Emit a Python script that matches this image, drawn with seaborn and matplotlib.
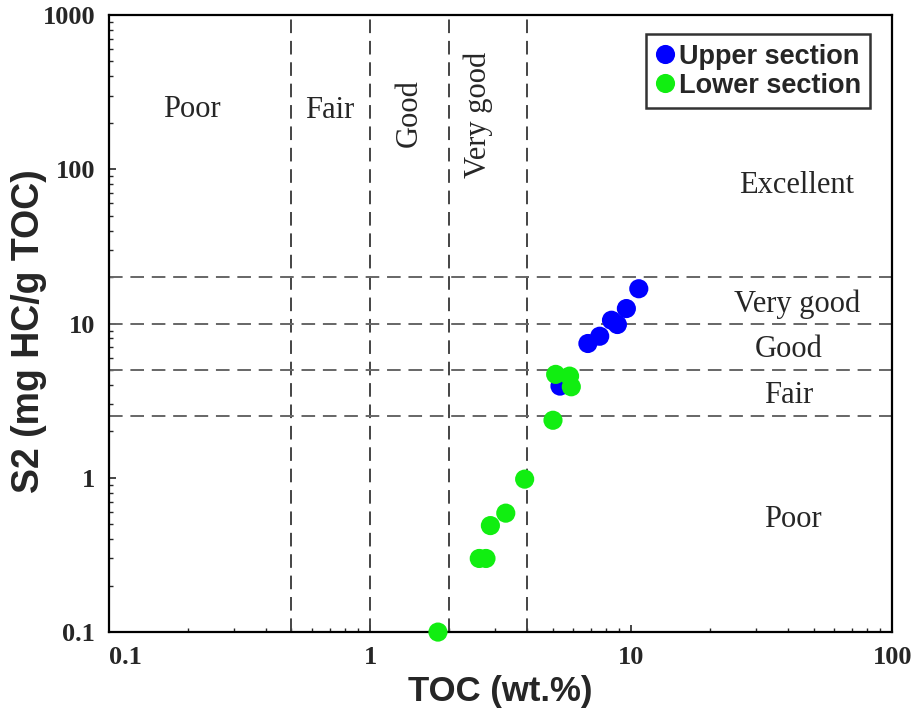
import numpy as np
import pandas as pd
import matplotlib
matplotlib.use("Agg")
import matplotlib.pyplot as plt
import matplotlib.transforms as mtransforms
import seaborn as sns
from matplotlib.ticker import LogLocator, FixedLocator, NullFormatter

# ---- data ----
upper_toc = [5.34, 6.83, 7.58, 8.41, 8.86, 9.59, 10.7]
upper_s2 = [3.93, 7.42, 8.27, 10.5, 9.85, 12.5, 16.8]
lower_toc = [5.14, 5.81, 5.90, 5.02, 3.91, 3.31, 2.89, 2.62, 2.78, 1.82]
lower_s2 = [4.68, 4.56, 3.89, 2.36, 0.98, 0.59, 0.49, 0.30, 0.30, 0.10]
series_names = ["Upper section", "Lower section"]
series_colors = ["#0000ff", "#11ee11"]

toc_cuts = [0.5, 1, 2, 4]
s2_cuts = [2.5, 5, 10, 20]
x_ticks = [0.1, 1, 10, 100]
x_tick_labels = ["0.1", "1", "10", "100"]
y_ticks = [0.1, 1, 10, 100, 1000]
y_tick_labels = ["0.1", "1", "10", "100", "1000"]

toc_zone_labels = ["Poor", "Fair", "Good", "Very good"]
toc_zone_x = [0.207, 0.698, 1.415, 2.60]
toc_zone_y = [245, 240, 232, 225]
toc_zone_rot = [0, 0, 90, 90]
s2_zone_labels = ["Excellent", "Very good", "Good", "Fair", "Poor"]
s2_zone_x = [43.2, 43.2, 40.2, 40.2, 41.5]
s2_zone_y = [79.0, 13.4, 6.75, 3.40, 0.535]

df = pd.DataFrame({
    "TOC": upper_toc + lower_toc,
    "S2": upper_s2 + lower_s2,
    "Section": [series_names[0]] * len(upper_toc) + [series_names[1]] * len(lower_toc),
})

sns.set_style("white")
fig = plt.figure(figsize=(9.16, 7.11), dpi=100)
ax = fig.add_axes([0.119, 0.111, 0.855, 0.868])

for c in toc_cuts:
    ax.axvline(c, color="#444444", lw=1.4, ls=(0, (7, 4)), zorder=1)
for c in s2_cuts:
    ax.axhline(c, color="#666666", lw=1.4, ls=(0, (7, 4)), zorder=1)

sns.scatterplot(data=df, x="TOC", y="S2", hue="Section", hue_order=series_names,
                palette=series_colors, s=190, linewidth=0, ax=ax, zorder=3,
                clip_on=False)

ax.set_xscale("log")
ax.set_yscale("log")
ax.set_xlim(0.1, 100)
ax.set_ylim(0.1, 1000)

serif_bold = {"family": "Liberation Serif", "weight": "bold", "size": 19}
ax.xaxis.set_major_locator(FixedLocator(x_ticks))
ax.yaxis.set_major_locator(FixedLocator(y_ticks))
ax.set_xticklabels(x_tick_labels, fontdict=serif_bold)
ax.set_yticklabels(y_tick_labels, fontdict=serif_bold)
ax.get_xticklabels()[0].set_horizontalalignment("left")
down = mtransforms.ScaledTranslation(0, -3 / 100, fig.dpi_scale_trans)
for lab in ax.get_yticklabels():
    lab.set_transform(lab.get_transform() + down)
ax.xaxis.set_minor_locator(LogLocator(base=10, subs=np.arange(2, 10), numticks=20))
ax.yaxis.set_minor_locator(LogLocator(base=10, subs=np.arange(2, 10), numticks=20))
ax.xaxis.set_minor_formatter(NullFormatter())
ax.yaxis.set_minor_formatter(NullFormatter())
ax.tick_params(which="major", direction="in", length=5, width=1.2, pad=10,
               bottom=True, left=True, top=False, right=False)
ax.tick_params(which="minor", direction="in", length=3, width=1.0,
               bottom=True, left=True, top=False, right=False)
for sp in ax.spines.values():
    sp.set_color("black")
    sp.set_linewidth(1.6)

ax.set_xlabel("TOC (wt.%)", fontsize=25, fontweight="bold", family="Liberation Sans", labelpad=4)
ax.set_ylabel("S2 (mg HC/g TOC)", fontsize=27, fontweight="bold", family="Liberation Sans")
ax.yaxis.label.set_verticalalignment("center")
ax.yaxis.set_label_coords(-0.102, 0.488)

for lab, x, y, r in zip(toc_zone_labels, toc_zone_x, toc_zone_y, toc_zone_rot):
    ax.text(x, y, lab, ha="center", va="center", rotation=r, fontsize=22,
            family="Liberation Serif", zorder=4)
for lab, x, y in zip(s2_zone_labels, s2_zone_x, s2_zone_y):
    ax.text(x, y, lab, ha="center", va="center", fontsize=22,
            family="Liberation Serif", zorder=4)

leg = ax.legend(loc="upper right", bbox_to_anchor=(0.972, 0.969), frameon=True,
                fancybox=False, prop={"family": "Liberation Sans", "weight": "bold", "size": 19.5},
                handletextpad=0.15, borderpad=0.35, labelspacing=0.12,
                handlelength=0.7, borderaxespad=0, markerscale=1.0)
leg.get_frame().set_edgecolor("black")
leg.get_frame().set_linewidth(1.8)
leg.set_title(None)

fig.savefig("out.png", dpi=100)
